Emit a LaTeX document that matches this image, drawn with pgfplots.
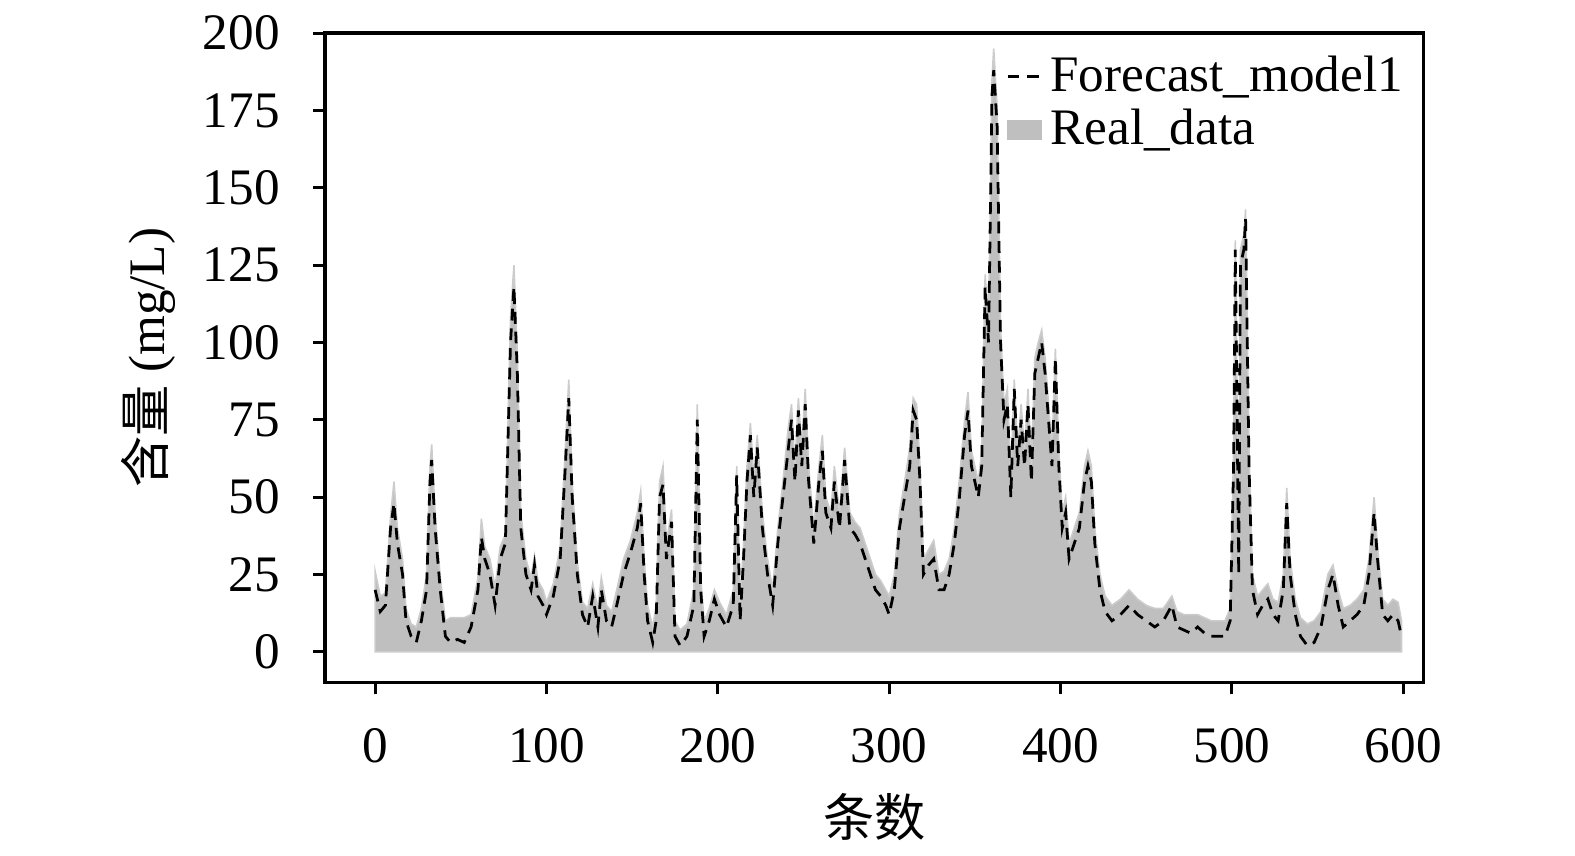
\documentclass[border=0pt]{standalone}
\usepackage{pgfplots}
\pgfplotsset{compat=1.18}
\usepackage{pgfplotstable}
\usepackage{fontspec}
\setmainfont{Liberation Serif}
\newfontfamily\cjk{Noto Sans CJK SC}
\pgfplotstableread{
x f r
0 20 26
3 13 18
6 15 19
9 40 44
11 48 55
13 35 40
16 25 30
18 10 14
21 5 9
24 3 8
27 10 14
30 20 25
32 55 60
33 62 67
35 40 45
38 20 24
41 5 10
44 3 11
48 4 11
52 3 11
56 8 12
60 20 24
62 37 43
64 30 34
67 25 30
70 15 21
73 30 34
76 35 38
79 100 108
81 118 125
83 90 96
85 40 45
88 25 30
91 20 24
93 28 31
95 18 23
98 15 20
100 12 16
104 18 22
108 30 34
111 60 66
113 82 88
115 50 55
118 25 29
121 12 16
124 8 14
127 18 22
130 8 14
132 20 24
135 10 15
138 8 13
141 15 20
145 25 30
149 32 36
153 40 45
155 48 52
157 25 30
159 10 15
162 3 8
164 10 15
166 50 55
168 54 60
170 30 35
173 42 46
175 5 10
178 2 7
182 5 9
186 15 20
188 75 80
190 20 24
192 5 10
195 10 14
198 17 20
201 12 16
205 8 12
209 15 20
211 57 60
213 10 15
215 30 35
217 55 60
219 70 74
221 50 56
223 66 70
226 40 45
229 25 30
232 15 20
235 35 40
238 50 55
241 65 72
243 75 80
245 55 60
247 78 82
249 60 66
251 80 85
253 55 60
256 35 40
259 55 60
261 65 70
263 45 50
266 40 45
268 55 60
271 40 45
274 62 66
277 40 45
280 38 42
283 35 40
286 30 35
289 25 30
292 20 25
295 18 23
298 15 20
300 12 18
303 20 25
306 40 45
309 50 55
312 60 66
314 78 82
316 75 80
318 55 60
320 25 30
323 28 33
326 30 36
329 20 25
332 20 26
335 25 30
338 35 40
341 50 56
344 70 75
346 78 84
348 60 65
350 55 60
352 50 55
354 60 65
356 118 122
358 100 105
360 180 185
361 188 195
363 170 176
365 100 105
367 75 80
369 80 85
371 50 56
373 85 88
375 60 65
377 75 80
379 60 65
381 80 85
383 55 60
385 90 95
387 95 100
389 100 104
391 90 95
393 75 80
395 60 65
397 95 98
399 60 65
401 40 45
403 45 50
405 30 35
408 35 40
411 40 45
414 55 60
416 60 65
418 55 60
420 35 40
423 20 25
426 13 18
430 10 15
435 12 17
440 15 20
445 12 17
450 10 15
455 8 14
460 10 14
465 15 18
468 8 13
472 7 12
476 6 12
480 8 12
484 6 11
488 5 10
492 5 10
496 5 10
499 10 14
501 60 65
502 130 133
503 80 85
504 25 30
505 125 130
507 130 135
508 140 143
510 60 65
512 20 25
515 12 18
518 15 20
521 17 22
524 12 17
527 10 16
530 20 25
532 48 53
534 25 30
537 12 17
540 5 11
544 2 9
548 3 10
552 8 13
556 20 25
559 25 28
562 15 20
565 8 14
569 10 15
573 12 17
577 15 20
580 25 30
583 45 50
585 30 34
588 12 17
591 10 15
594 12 17
597 10 16
599 5 10
}\data
\begin{document}
\begin{tikzpicture}
\begin{axis}[
  scale only axis, width=279pt, height=165pt,
  xmin=-29.2, xmax=611.8, ymin=-10, ymax=200,
  xtick={0,100,...,600}, ytick={0,25,...,200},
  tick align=outside, xtick pos=bottom, ytick pos=left,
  major tick length=3pt,
  axis line style={line width=0.9pt},
  tick style={line width=0.8pt, black},
  tick label style={font=\fontsize{13}{15}\selectfont},
  xticklabel style={yshift=-5pt},
  yticklabel style={xshift=-5pt},
  /pgf/number format/assume math mode=true,
  xlabel={\cjk 条数}, ylabel={{\cjk 含量} (mg/L)},
  label style={font=\fontsize{13}{15}\selectfont},
  ylabel style={yshift=0pt},
  xlabel style={yshift=-1pt},
  legend style={draw=none, fill=none, at={(1.0,0.99)}, anchor=north east, font=\fontsize{13}{15}\selectfont, row sep=-1pt},
  legend cell align=left,
  legend image code/.code={\draw[#1] (0cm,0cm) -- (0.3cm,0cm);},
  clip=false,
]
\addplot[black, densely dashed, line width=0.7pt] coordinates {(0,0)};
\addplot[fill=black!25, draw=black!20, legend image code/.code={\fill[black!25] (0cm,-0.08cm) rectangle (0.3cm,0.08cm);}] table[x=x,y=r]{\data} \closedcycle;
\addplot[black, densely dashed, line width=0.7pt, forget plot] table[x=x,y=f]{\data};
\legend{Forecast\_model1, Real\_data}
\path (rel axis cs:-0.296,-0.266) rectangle (rel axis cs:1.138,1.051);
\end{axis}
\end{tikzpicture}
\end{document}
